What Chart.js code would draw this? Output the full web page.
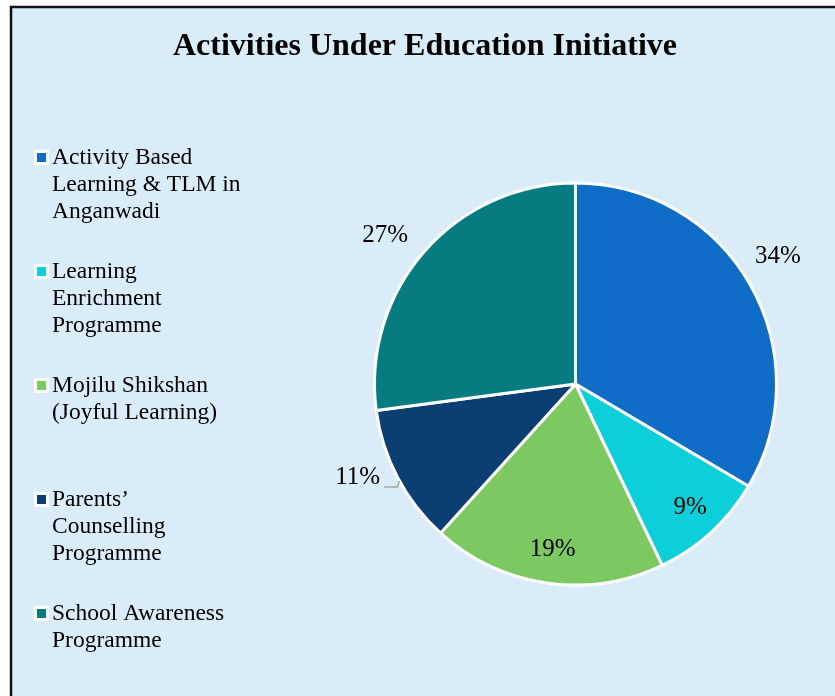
<!DOCTYPE html>
<html>
<head>
<meta charset="utf-8">
<script src="https://cdn.jsdelivr.net/npm/chart.js@4"></script>
<style>
  html, body { margin: 0; padding: 0; background: #ffffff; }
  #wrap { width: 835px; height: 696px; position: relative; }
</style>
</head>
<body>
<div id="wrap"><canvas id="chart" width="835" height="696"></canvas></div>
<script>
// chart data
const chartTitle = 'Activities Under Education Initiative';
const categories = [
  ['Activity Based', 'Learning & TLM in', 'Anganwadi'],
  ['Learning', 'Enrichment', 'Programme'],
  ['Mojilu Shikshan', '(Joyful Learning)'],
  ['Parents\u2019', 'Counselling', 'Programme'],
  ['School Awareness', 'Programme']
];
// share of activities (percent)
const shares = [33.5, 9.4, 18.8, 11.2, 27.1];
const sliceColors = ['#106dc7', '#0dcfd9', '#7cc962', '#0b3f72', '#077c80'];

// where each percentage label sits, relative to its slice (angle shift in degrees, radius factor)
const labelPlacement = [
  { da: -2.5, rf: 1.19, leader: false },
  { da: -0.3, rf: 0.84, leader: false },
  { da: -0.4, rf: 0.83, leader: false },
  { da: 4.4, rf: 1.18, leader: true },
  { da: -3.3, rf: 1.2, leader: false }
];

const serif = '"Liberation Serif", "Times New Roman", serif';

// background, frame, title and legend drawn on the canvas
const framePlugin = {
  id: 'frame',
  beforeDraw(chart) {
    const ctx = chart.ctx;
    ctx.save();
    ctx.fillStyle = '#ffffff';
    ctx.fillRect(0, 0, chart.width, chart.height);
    ctx.fillStyle = '#daecf8';
    ctx.fillRect(11, 7, chart.width - 11, chart.height - 7);
    ctx.strokeStyle = '#111111';
    ctx.lineWidth = 2.5;
    ctx.beginPath();
    ctx.moveTo(chart.width, 7);
    ctx.lineTo(11, 7);
    ctx.lineTo(11, chart.height);
    ctx.stroke();

    // title
    ctx.fillStyle = '#000000';
    ctx.font = 'bold 32px ' + serif;
    ctx.textAlign = 'center';
    ctx.textBaseline = 'middle';
    ctx.fillText(chartTitle, 425, 47);

    // legend
    ctx.font = '23.5px ' + serif;
    ctx.textAlign = 'left';
    const ds = chart.data.datasets[0];
    chart.data.labels.forEach(function (lines, i) {
      const top = 158 + i * 114;
      ctx.fillStyle = '#ffffff';
      ctx.fillRect(34, top - 8, 15, 15);
      ctx.fillStyle = ds.backgroundColor[i];
      ctx.fillRect(37, top - 5, 9, 9);
      ctx.fillStyle = '#000000';
      lines.forEach(function (line, j) {
        ctx.fillText(line, 52, top + j * 27);
      });
    });
    ctx.restore();
  },
  afterDatasetsDraw(chart) {
    const ctx = chart.ctx;
    const meta = chart.getDatasetMeta(0);
    const total = shares.reduce(function (a, b) { return a + b; }, 0);
    ctx.save();
    ctx.font = '25px ' + serif;
    ctx.fillStyle = '#000000';
    ctx.textAlign = 'center';
    ctx.textBaseline = 'middle';
    meta.data.forEach(function (arc, i) {
      const p = labelPlacement[i];
      const mid = (arc.startAngle + arc.endAngle) / 2 + p.da * Math.PI / 180;
      const r = arc.outerRadius * p.rf;
      const x = arc.x + Math.cos(mid) * r;
      const y = arc.y + Math.sin(mid) * r;
      const text = Math.round(shares[i] / total * 100) + '%';
      ctx.fillText(text, x, y);
      if (p.leader) {
        // short elbow line from the label to the slice edge
        const w = ctx.measureText(text).width;
        const ly = y + 9;
        const ey = y + 3;
        const ex = arc.x - Math.sqrt(arc.outerRadius * arc.outerRadius - (ey - arc.y) * (ey - arc.y));
        ctx.strokeStyle = '#a6a6a6';
        ctx.lineWidth = 1.5;
        ctx.beginPath();
        ctx.moveTo(x + w / 2 + 4, ly);
        ctx.lineTo(ex - 2, ly);
        ctx.lineTo(ex, ey);
        ctx.stroke();
      }
    });
    ctx.restore();
  }
};

const ctx = document.getElementById('chart').getContext('2d');
const myChart = new Chart(ctx, {
  type: 'pie',
  data: {
    labels: categories,
    datasets: [{
      data: shares,
      backgroundColor: sliceColors,
      borderColor: '#ffffff',
      borderWidth: 3
    }]
  },
  options: {
    responsive: false,
    animation: false,
    layout: {
      padding: { left: 373, right: 57, top: 181, bottom: 109 }
    },
    plugins: {
      legend: { display: false },
      title: { display: false },
      tooltip: { enabled: false }
    }
  },
  plugins: [framePlugin]
});
</script>
</body>
</html>
